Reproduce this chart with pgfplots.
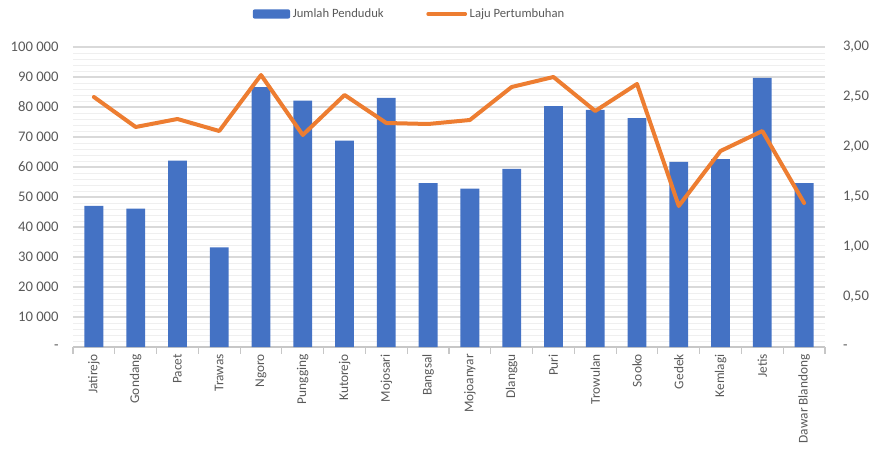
\documentclass[border=0pt]{standalone}
\usepackage{pgfplots}
\pgfplotsset{compat=1.18}
\usepackage{fontspec}
\setmainfont{Carlito}
\definecolor{barblue}{HTML}{4472C4}
\definecolor{lineorange}{HTML}{ED7D31}
\definecolor{txtgray}{HTML}{595959}
\definecolor{gridmaj}{HTML}{D9D9D9}
\definecolor{gridmin}{HTML}{EFEFEF}
\begin{document}
\begin{tikzpicture}[x=1pt,y=1pt]
\useasboundingbox (-54.75,-79.5) rectangle (603.75,260.25);
\begin{axis}[
  name=main,
  scale only axis, width=564pt, height=225pt,
  at={(0,0)}, anchor=south west,
  xmin=-0.5, xmax=17.5,
  ymin=0, ymax=100000,
  scaled y ticks=false,
  ytick={0,10000,...,100000},
  yticklabels={-,10 000,20 000,30 000,40 000,50 000,60 000,70 000,80 000,90 000,100 000},
  minor y tick num=4,
  ymajorgrids, yminorgrids,
  major grid style={gridmaj, line width=0.8pt},
  minor grid style={gridmin, line width=0.6pt},
  axis x line*=bottom,
  axis y line*=left,
  y axis line style={draw=none},
  x axis line style={gridmaj!80!gray, line width=0.8pt},
  xtick={0,...,17},
  xticklabels={Jatirejo,Gondang,Pacet,Trawas,Ngoro,Pungging,Kutorejo,Mojosari,Bangsal,Mojoanyar,Dlanggu,Puri,Trowulan,Sooko,Gedek,Kemlagi,Jetis,Dawar Blandong},
  x tick label style={rotate=90, anchor=east, font=\fontsize{10}{12}\selectfont, text=txtgray, inner sep=1pt},
  major x tick style={draw=none},
  minor xtick={-0.5,0.5,...,17.5},
  minor x tick style={gridmaj!80!gray, line width=0.8pt},
  minor tick length=5pt,
  xtick pos=bottom,
  tick align=outside,
  major y tick style={draw=none},
  minor y tick style={draw=none},
  y tick label style={font=\fontsize{11}{12}\selectfont, text=txtgray},
  yticklabel style={xshift=-3pt},
  legend columns=2,
  legend style={draw=none, fill=none, at={(0.448,1.11)}, anchor=center,
    font=\fontsize{9.5}{11}\selectfont, text=txtgray,
    /tikz/every even column/.append style={column sep=30pt}},
  legend cell align=left,
]
\addplot[ybar, bar width=0.45, fill=barblue, draw=none,
  legend image code/.code={\fill[barblue, rounded corners=1.5pt] (0pt,-3.5pt) rectangle (28pt,3.5pt);}]
 coordinates {
 (0,47000) (1,46100) (2,62100) (3,33200) (4,86600) (5,82100) (6,68800) (7,83000) (8,54600)
 (9,52800) (10,59400) (11,80300) (12,79000) (13,76300) (14,61700) (15,62600) (16,89700) (17,54600)
 };
\addlegendentry{Jumlah Penduduk}
\addlegendimage{legend image code/.code={\draw[lineorange, line width=2.5pt, line cap=round] (0pt,0pt) -- (28pt,0pt);}}
\addlegendentry{Laju Pertumbuhan}
\end{axis}
\begin{axis}[
  scale only axis, width=564pt, height=225pt,
  at={(0,0)}, anchor=south west,
  xmin=-0.5, xmax=17.5,
  ymin=0, ymax=3,
  axis x line=none,
  axis y line*=right,
  y axis line style={draw=none},
  ytick={0,0.5,...,3},
  yticklabels={-,{0,50},{1,00},{1,50},{2,00},{2,50},{3,00}},
  major y tick style={draw=none},
  y tick label style={font=\fontsize{11}{12}\selectfont, text=txtgray},
  yticklabel style={xshift=10pt},
]
\addplot[lineorange, line width=3pt, line join=round, line cap=round, mark=none]
 coordinates {
 (0,2.50) (1,2.20) (2,2.28) (3,2.16) (4,2.72) (5,2.12) (6,2.52) (7,2.24) (8,2.23)
 (9,2.27) (10,2.60) (11,2.70) (12,2.36) (13,2.63) (14,1.41) (15,1.96) (16,2.16) (17,1.44)
 };
\end{axis}
\end{tikzpicture}
\end{document}
